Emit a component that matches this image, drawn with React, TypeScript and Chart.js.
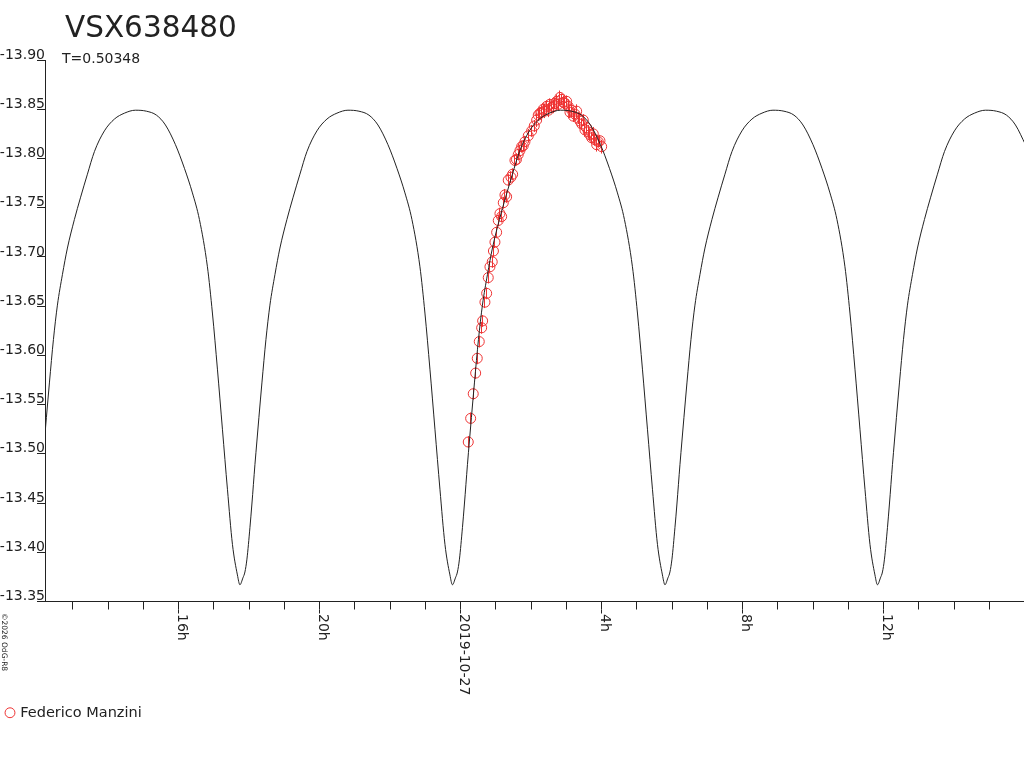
import React, { useEffect, useRef } from 'react';
import { Chart, registerables } from 'chart.js';

Chart.register(...registerables);

// ---------- texts ----------
const TITLE = 'VSX638480';
const SUBTITLE = 'T=0.50348';
const OBS_LABEL = 'Federico Manzini';
const COPYRIGHT = '\u00A92026 OdG-R8';

// ---------- axes (hours relative to 2019-10-27 00:00) ----------
const X_MIN = -11.79;
const X_MAX = 15.98;
const Y_MIN = -13.9;
const Y_MAX = -13.35;
const Y_STEP = 0.05;
const X_LABEL_HOURS = [-8, -4, 0, 4, 8, 12];
const X_LABELS = ['16h', '20h', '2019-10-27', '4h', '8h', '12h'];

// ---------- model light curve ----------
const CURVE_HOURS = [
  // cycle 0
  -11.807, -11.75, -11.665, -11.551, -11.438, -11.296, -11.154, -10.956, -10.785, -10.587,
  -10.388, -10.105, -9.821, -9.537, -9.225, -8.913, -8.629, -8.374, -8.09, -7.835,
  -7.608, -7.41, -7.183, -7.041, -6.899, -6.757, -6.615, -6.473, -6.332,
  // cycle 1
  -6.261, -6.176, -6.119, -6.062, -5.977, -5.921, -5.835, -5.779, -5.722, -5.637,
  -5.523, -5.41, -5.268, -5.126, -4.928, -4.757, -4.559, -4.36, -4.077, -3.793,
  -3.509, -3.197, -2.885, -2.601, -2.346, -2.062, -1.807, -1.58, -1.382, -1.155,
  -1.013, -0.871, -0.729, -0.587, -0.445, -0.304,
  // cycle 2
  -0.233, -0.148, -0.091, -0.034, 0.051, 0.107, 0.193, 0.249, 0.306, 0.391,
  0.505, 0.618, 0.76, 0.902, 1.1, 1.271, 1.469, 1.668, 1.951, 2.235,
  2.519, 2.831, 3.143, 3.427, 3.682, 3.966, 4.221, 4.448, 4.646, 4.873,
  5.015, 5.157, 5.299, 5.441, 5.583, 5.724,
  // cycle 3
  5.795, 5.88, 5.937, 5.994, 6.079, 6.135, 6.221, 6.277, 6.334, 6.419,
  6.533, 6.646, 6.788, 6.93, 7.128, 7.299, 7.497, 7.696, 7.979, 8.263,
  8.547, 8.859, 9.171, 9.455, 9.71, 9.994, 10.249, 10.476, 10.674, 10.901,
  11.043, 11.185, 11.327, 11.469, 11.611, 11.752,
  // cycle 4
  11.823, 11.908, 11.965, 12.022, 12.107, 12.163, 12.249, 12.305, 12.362, 12.447,
  12.561, 12.674, 12.816, 12.958, 13.156, 13.327, 13.525, 13.724, 14.007, 14.291,
  14.575, 14.887, 15.199, 15.483, 15.738, 16.022,
];

const CURVE_MAG = [
  // cycle 0
  -13.513, -13.537, -13.572, -13.616, -13.651, -13.682, -13.709, -13.738, -13.76, -13.784,
  -13.807, -13.828, -13.84, -13.846, -13.849, -13.848, -13.844, -13.834, -13.814, -13.79,
  -13.765, -13.738, -13.69, -13.643, -13.586, -13.525, -13.464, -13.408, -13.377,
  // cycle 1
  -13.367, -13.374, -13.38, -13.393, -13.425, -13.449, -13.489, -13.513, -13.537, -13.572,
  -13.616, -13.651, -13.682, -13.709, -13.738, -13.76, -13.784, -13.807, -13.828, -13.84,
  -13.846, -13.849, -13.848, -13.844, -13.834, -13.814, -13.79, -13.765, -13.738, -13.69,
  -13.643, -13.586, -13.525, -13.464, -13.408, -13.377,
  // cycle 2
  -13.367, -13.374, -13.38, -13.393, -13.425, -13.449, -13.489, -13.513, -13.537, -13.572,
  -13.616, -13.651, -13.682, -13.709, -13.738, -13.76, -13.784, -13.807, -13.828, -13.84,
  -13.846, -13.849, -13.848, -13.844, -13.834, -13.814, -13.79, -13.765, -13.738, -13.69,
  -13.643, -13.586, -13.525, -13.464, -13.408, -13.377,
  // cycle 3
  -13.367, -13.374, -13.38, -13.393, -13.425, -13.449, -13.489, -13.513, -13.537, -13.572,
  -13.616, -13.651, -13.682, -13.709, -13.738, -13.76, -13.784, -13.807, -13.828, -13.84,
  -13.846, -13.849, -13.848, -13.844, -13.834, -13.814, -13.79, -13.765, -13.738, -13.69,
  -13.643, -13.586, -13.525, -13.464, -13.408, -13.377,
  // cycle 4
  -13.367, -13.374, -13.38, -13.393, -13.425, -13.449, -13.489, -13.513, -13.537, -13.572,
  -13.616, -13.651, -13.682, -13.709, -13.738, -13.76, -13.784, -13.807, -13.828, -13.84,
  -13.846, -13.849, -13.848, -13.844, -13.834, -13.814,
];

// ---------- observations ----------
const OBS_HOURS = [
  0.216, 0.284, 0.357, 0.426, 0.471, 0.528, 0.596, 0.624, 0.689, 0.738,
  0.783, 0.831, 0.896, 0.93, 0.973, 1.021, 1.067, 1.115, 1.163, 1.209,
  1.257, 1.305, 1.35, 1.427, 1.475, 1.54, 1.583, 1.634, 1.682, 1.73,
  1.776, 1.824, 1.918, 2.014, 2.088, 2.156, 2.201, 2.25, 2.298, 2.343,
  2.377, 2.44, 2.491, 2.533, 2.582, 2.627, 2.675, 2.723, 2.769, 2.817,
  2.865, 2.911, 2.959, 3.007, 3.052, 3.101, 3.149, 3.194, 3.243, 3.291,
  3.336, 3.384, 3.433, 3.478, 3.526, 3.574, 3.62, 3.668, 3.716, 3.762,
  3.81, 3.858, 3.904, 3.952, 4.0,
];
const OBS_MAG = [
  -13.512, -13.536, -13.561, -13.582, -13.597, -13.614, -13.628, -13.635, -13.654, -13.663,
  -13.679, -13.69, -13.695, -13.706, -13.715, -13.725, -13.737, -13.744, -13.741, -13.755,
  -13.763, -13.761, -13.778, -13.781, -13.784, -13.798, -13.799, -13.804, -13.808, -13.812,
  -13.813, -13.817, -13.823, -13.828, -13.833, -13.839, -13.844, -13.846, -13.847, -13.85,
  -13.848, -13.853, -13.849, -13.855, -13.852, -13.853, -13.856, -13.858, -13.855, -13.862,
  -13.86, -13.857, -13.856, -13.858, -13.853, -13.847, -13.849, -13.843, -13.845, -13.848,
  -13.841, -13.838, -13.835, -13.839, -13.829, -13.831, -13.827, -13.824, -13.821, -13.825,
  -13.819, -13.814, -13.817, -13.818, -13.812,
];
const OBS_ERR = [
  0.006, 0.006, 0.006, 0.006, 0.006, 0.006, 0.006, 0.006, 0.006, 0.006,
  0.006, 0.006, 0.006, 0.006, 0.006, 0.006, 0.006, 0.006, 0.006, 0.006,
  0.006, 0.006, 0.006, 0.006, 0.006, 0.006, 0.006, 0.006, 0.006, 0.006,
  0.006, 0.006, 0.007, 0.006, 0.006, 0.007, 0.006, 0.006, 0.007, 0.006,
  0.007, 0.006, 0.007, 0.006, 0.006, 0.007, 0.006, 0.007, 0.006, 0.007,
  0.006, 0.007, 0.006, 0.006, 0.007, 0.006, 0.007, 0.006, 0.006, 0.007,
  0.006, 0.007, 0.006, 0.006, 0.007, 0.006, 0.007, 0.006, 0.006, 0.007,
  0.006, 0.007, 0.006, 0.006, 0.007,
];

// ---------- styles ----------
const FONT = '"DejaVu Sans", sans-serif';
const TEXT_COLOR = '#222222';
const AXIS_COLOR = '#222222';
const CURVE_COLOR = '#222222';
const OBS_COLOR = 'rgb(238, 51, 51)';

const alignPx = (p: number) => Math.round(p - 0.5) + 0.5;

const errorBarsPlugin = {
  id: 'errorBars',
  afterDatasetDraw(chart: any, args: any) {
    if (args.index !== 1) return;
    const { ctx, chartArea } = chart;
    const xs = chart.scales.x;
    const ys = chart.scales.y;
    ctx.save();
    ctx.beginPath();
    ctx.rect(chartArea.left, chartArea.top, chartArea.right - chartArea.left, chartArea.bottom - chartArea.top);
    ctx.clip();
    ctx.strokeStyle = OBS_COLOR;
    ctx.lineWidth = 1;
    OBS_HOURS.forEach((h, i) => {
      const px = alignPx(xs.getPixelForValue(h));
      const y1 = ys.getPixelForValue(OBS_MAG[i] - OBS_ERR[i]);
      const y2 = ys.getPixelForValue(OBS_MAG[i] + OBS_ERR[i]);
      ctx.beginPath();
      ctx.moveTo(px, y1);
      ctx.lineTo(px, y2);
      ctx.stroke();
    });
    ctx.restore();
  },
};

const annotationsPlugin = {
  id: 'annotations',
  afterDraw(chart: any) {
    const { ctx } = chart;
    const xs = chart.scales.x;
    ctx.save();
    ctx.fillStyle = TEXT_COLOR;
    ctx.textAlign = 'left';
    ctx.textBaseline = 'alphabetic';
    ctx.font = `29.5px ${FONT}`;
    ctx.fillText(TITLE, 65, 37);
    ctx.font = `14px ${FONT}`;
    ctx.fillText(SUBTITLE, 62, 63);

    const base = xs.top;
    ctx.strokeStyle = AXIS_COLOR;
    ctx.lineWidth = 1;
    X_LABEL_HOURS.forEach((h, i) => {
      const px = alignPx(xs.getPixelForValue(h));
      ctx.beginPath();
      ctx.moveTo(px, base + 8);
      ctx.lineTo(px, base + 12);
      ctx.stroke();
      ctx.save();
      ctx.translate(px - 0.5, base + 12.5);
      ctx.rotate(Math.PI / 2);
      ctx.fillText(X_LABELS[i], 0, 0);
      ctx.restore();
    });

    ctx.font = `7.5px ${FONT}`;
    ctx.save();
    ctx.translate(1.5, 613);
    ctx.rotate(Math.PI / 2);
    ctx.fillText(COPYRIGHT, 0, 0);
    ctx.restore();
    ctx.restore();
  },
};

export default function App() {
  const canvasRef = useRef<HTMLCanvasElement | null>(null);

  useEffect(() => {
    const canvas = canvasRef.current;
    if (!canvas) return;
    Chart.defaults.font.family = FONT;

    const chart = new Chart(canvas, {
      type: 'scatter',
      data: {
        datasets: [
          {
            type: 'line',
            label: 'model',
            data: CURVE_HOURS.map((h, i) => ({ x: h, y: CURVE_MAG[i] })),
            borderColor: CURVE_COLOR,
            borderWidth: 1,
            pointRadius: 0,
            fill: false,
            cubicInterpolationMode: 'monotone',
          } as any,
          {
            type: 'scatter',
            label: OBS_LABEL,
            data: OBS_HOURS.map((h, i) => ({ x: h, y: OBS_MAG[i] })),
            pointStyle: 'circle',
            pointRadius: 5,
            borderColor: OBS_COLOR,
            backgroundColor: 'rgba(0,0,0,0)',
            borderWidth: 1,
            showLine: false,
          } as any,
        ],
      },
      options: {
        animation: false,
        responsive: false,
        events: [],
        layout: { autoPadding: false, padding: { top: 60, left: 0, right: 0, bottom: 38 } },
        plugins: {
          title: { display: false },
          tooltip: { enabled: false },
          legend: {
            display: true,
            position: 'bottom',
            align: 'start',
            labels: {
              usePointStyle: true,
              boxWidth: 6,
              boxHeight: 7,
              padding: 7,
              color: TEXT_COLOR,
              font: { family: FONT, size: 14.5 },
              filter: (item: any) => item.datasetIndex === 1,
            },
          },
        },
        scales: {
          x: {
            type: 'linear',
            min: X_MIN,
            max: X_MAX,
            border: { display: true, color: AXIS_COLOR, width: 1 },
            grid: { drawOnChartArea: false, drawTicks: true, tickLength: 8, color: AXIS_COLOR },
            ticks: { display: false, stepSize: 1, includeBounds: false },
            afterFit: (scale: any) => {
              scale.height = 97;
            },
          },
          y: {
            type: 'linear',
            reverse: true,
            min: Y_MIN,
            max: Y_MAX,
            border: { display: true, color: AXIS_COLOR, width: 1 },
            grid: { drawOnChartArea: false, drawTicks: true, tickLength: 8, color: AXIS_COLOR },
            ticks: {
              stepSize: Y_STEP,
              padding: -8,
              labelOffset: -5,
              color: TEXT_COLOR,
              font: { family: FONT, size: 14 },
              callback: (v: any) => Number(v).toFixed(2),
            },
            afterFit: (scale: any) => {
              scale.width = 45;
            },
          },
        },
      } as any,
      plugins: [errorBarsPlugin, annotationsPlugin],
    });

    return () => chart.destroy();
  }, []);

  return (
    <div style={{ position: 'absolute', left: 0, top: 0, width: 1024, height: 768, background: '#fff' }}>
      <canvas ref={canvasRef} width={1024} height={768} style={{ display: 'block', width: 1024, height: 768 }} />
    </div>
  );
}
